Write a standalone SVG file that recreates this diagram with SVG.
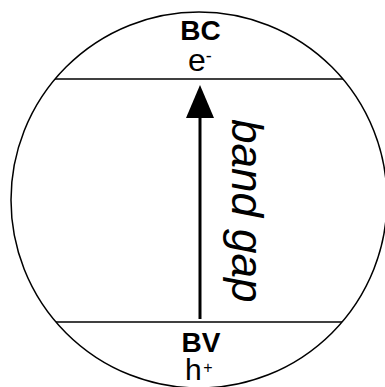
<svg xmlns="http://www.w3.org/2000/svg" width="385" height="387" viewBox="0 0 385 387">
<style>
.thin{stroke:#000;stroke-width:1.5;fill:none}
.lbl{font-family:"Liberation Sans",Arial,sans-serif;fill:#000}
.b{font-weight:bold;font-size:28px}
</style>
<rect width="385" height="387" fill="#fff"/>
<g id="particle">
<circle class="thin" cx="199" cy="200" r="188"/>
</g>
<g id="bc">
<line class="thin" x1="55" y1="79" x2="343" y2="79"/>
<text class="lbl b" x="200.5" y="40" text-anchor="middle">BC</text>
<text class="lbl" x="188" y="71" font-size="32">e<tspan font-size="18" dy="-9">-</tspan></text>
</g>
<g id="bv">
<line class="thin" x1="56" y1="322" x2="342" y2="322"/>
<text class="lbl b" x="201" y="351.5" text-anchor="middle">BV</text>
<text class="lbl" x="185" y="380" font-size="30">h<tspan font-size="16" dx="1.5" dy="-7.5">+</tspan></text>
</g>
<g id="connectors">
<line x1="200" y1="319" x2="200" y2="114" stroke="#000" stroke-width="3"/>
<polygon points="200,85 186,118 214,118" fill="#000"/>
<text class="lbl" font-size="44" font-style="italic" transform="translate(232,119) rotate(90)">band gap</text>
</g>
</svg>
